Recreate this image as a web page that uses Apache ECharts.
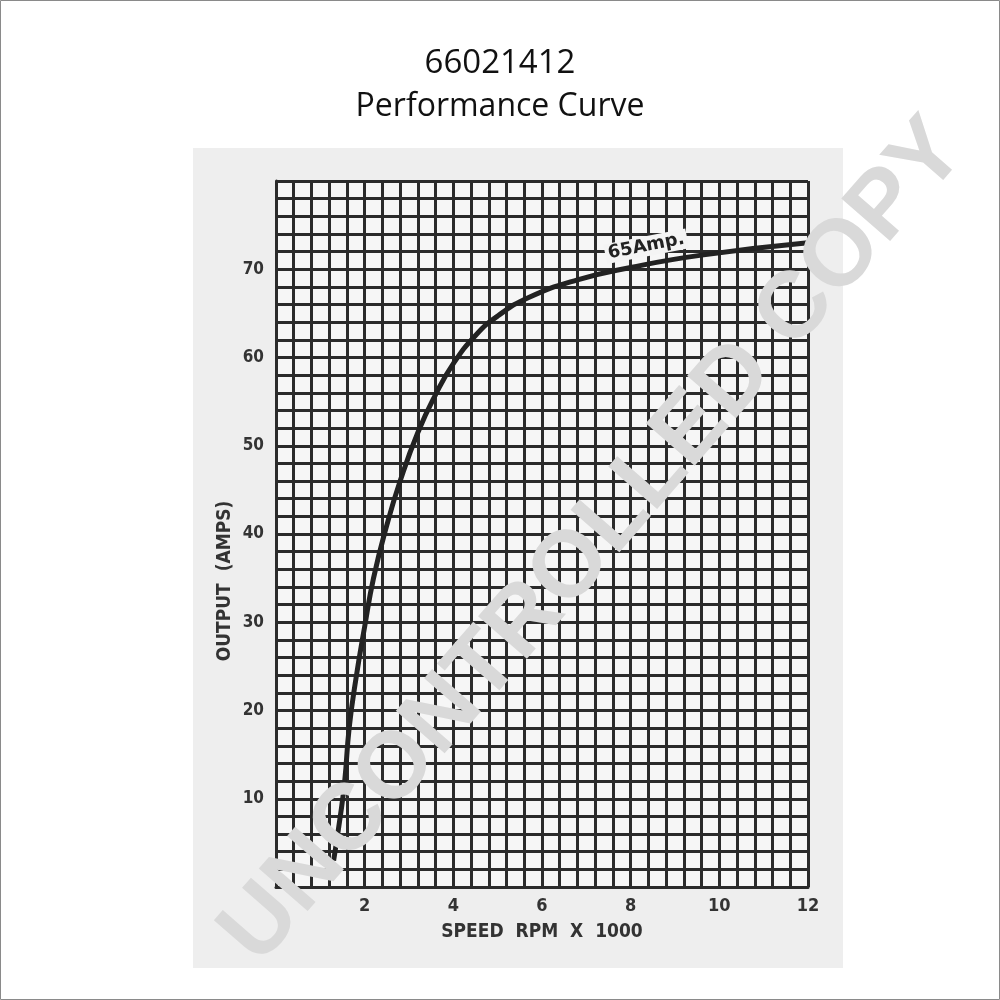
<!DOCTYPE html>
<html>
<head>
<meta charset="utf-8">
<script src="https://cdn.jsdelivr.net/npm/echarts@6/dist/echarts.min.js"></script>
<style>
html,body{margin:0;padding:0;background:#fff;}
#chart{width:1000px;height:1000px;}
</style>
</head>
<body>
<div id="chart"></div>
<script>
// Data
var speedRpmK = [1.3, 1.45, 1.55, 1.65, 1.8, 2.0, 2.2, 2.5, 2.8, 3.2, 3.6, 4.0, 4.5, 5.0, 5.7, 6.8, 8.0, 9.6, 12.0];
var outputAmps = [3, 8, 12, 18, 23.5, 29.5, 35, 41, 46, 51.5, 55.8, 59.3, 62.5, 64.7, 66.8, 68.8, 70.2, 71.6, 73];
var xTickLabels = ['2', '4', '6', '8', '10', '12'];
var yTickLabels = ['10', '20', '30', '40', '50', '60', '70'];
var titleLines = ['66021412', 'Performance Curve'];
var xAxisTitle = 'SPEED  RPM  X  1000';
var yAxisTitle = 'OUTPUT  (AMPS)';
var curveLabel = '65Amp.';
var curveLabelAt = [8.35, 72.6];
var watermarkText = 'UNCONTROLLED COPY';

var data = speedRpmK.map(function (x, i) { return [x, outputAmps[i]]; });
var gridColor = '#2b2b2b';
var labelFont = '"DejaVu Sans Condensed", "Liberation Sans Narrow", sans-serif';

var chart = echarts.init(document.getElementById('chart'), null, { renderer: 'canvas' });
chart.setOption({
  backgroundColor: '#ffffff',
  animation: false,
  title: [
    { text: titleLines[0], left: 'center', top: 42, textStyle: { fontFamily: '"Open Sans", sans-serif', fontWeight: 'normal', fontSize: 33, color: '#111' } },
    { text: titleLines[1], left: 'center', top: 86, textStyle: { fontFamily: '"Open Sans", sans-serif', fontWeight: 'normal', fontSize: 32, color: '#111' } }
  ],
  graphic: [
    { type: 'rect', z: -10, silent: true, shape: { x: 193, y: 148, width: 650, height: 820 }, style: { fill: '#eeeeee' } },
    { type: 'rect', z: -9, silent: true, shape: { x: 0.5, y: 0.5, width: 999, height: 999 }, style: { fill: 'none', stroke: '#8a8a8a', lineWidth: 1 } },
    { type: 'text', z: 50, silent: true, x: 225, y: 581, rotation: Math.PI / 2,
      style: { text: yAxisTitle, fill: '#333', font: 'bold 19px ' + labelFont, textAlign: 'center', textVerticalAlign: 'middle' } },
    { type: 'text', z: 100, silent: true, x: 594, y: 542, rotation: 49 * Math.PI / 180,
      style: { text: watermarkText, fill: '#d9d9d9', font: 'bold 94px "Liberation Sans", Arial, sans-serif', textAlign: 'center', textVerticalAlign: 'middle' } }
  ],
  grid: { left: 276, top: 181, width: 532, height: 706, backgroundColor: '#f6f6f6', show: true, borderWidth: 0 },
  xAxis: {
    type: 'value', min: 0, max: 12, interval: 2,
    name: xAxisTitle, nameLocation: 'middle', nameGap: 36,
    nameTextStyle: { fontFamily: labelFont, fontWeight: 'bold', fontSize: 19, color: '#333' },
    axisLine: { show: true, lineStyle: { color: gridColor, width: 3 } },
    axisTick: { show: false },
    axisLabel: { margin: 10, fontFamily: labelFont, fontWeight: 'bold', fontSize: 18, color: '#333',
      formatter: function (v) { var i = Math.round(v / 2) - 1; return i >= 0 && i < xTickLabels.length ? xTickLabels[i] : ''; } },
    splitLine: { show: true, lineStyle: { color: gridColor, width: 3 } },
    minorTick: { show: false, splitNumber: 5 },
    minorSplitLine: { show: true, lineStyle: { color: gridColor, width: 3 } }
  },
  yAxis: {
    type: 'value', min: 0, max: 80, interval: 10,
    axisLine: { show: true, lineStyle: { color: gridColor, width: 3 } },
    axisTick: { show: false },
    axisLabel: { margin: 12, fontFamily: labelFont, fontWeight: 'bold', fontSize: 17, color: '#333',
      formatter: function (v) { var i = Math.round(v / 10) - 1; return i >= 0 && i < yTickLabels.length ? yTickLabels[i] : ''; } },
    splitLine: { show: true, lineStyle: { color: gridColor, width: 3 } },
    minorTick: { show: false, splitNumber: 5 },
    minorSplitLine: { show: true, lineStyle: { color: gridColor, width: 3 } }
  },
  series: [{
    type: 'line',
    data: data,
    smooth: 0.5,
    showSymbol: false,
    symbol: 'none',
    lineStyle: { color: '#222', width: 5 },
    z: 5,
    markPoint: {
      symbol: 'rect', symbolSize: 1, itemStyle: { color: 'rgba(0,0,0,0)' },
      label: { show: true, position: 'inside', formatter: curveLabel, rotate: 11,
        fontFamily: '"DejaVu Sans", sans-serif', fontWeight: 'bold', fontSize: 18, color: '#222',
        backgroundColor: '#f4f4f4', padding: [1, 3] },
      data: [{ coord: curveLabelAt }]
    }
  }]
});
</script>
</body>
</html>
